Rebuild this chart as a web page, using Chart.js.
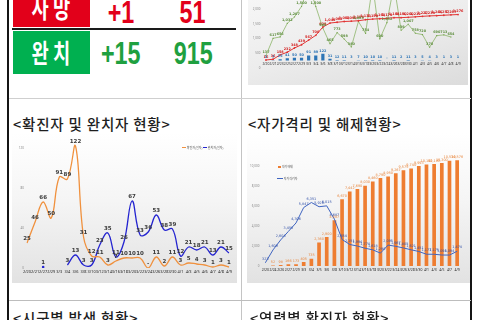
<!DOCTYPE html>
<html><head><meta charset="utf-8">
<script src="https://cdn.jsdelivr.net/npm/chart.js@4.4.1/dist/chart.umd.min.js"></script>
<style>
html,body{margin:0;padding:0;}
body{width:480px;height:320px;overflow:hidden;position:relative;background:#fff;font-family:"Noto Sans CJK KR","Noto Sans",sans-serif;}
.ln{position:absolute;}
.box{position:absolute;color:#fff;font-weight:700;display:flex;align-items:center;justify-content:center;font-size:26px;line-height:1;}
.box span{display:inline-block;transform:scaleX(0.72);white-space:pre;}
.num{position:absolute;width:70px;text-align:center;font-family:"Liberation Sans Narrow","Liberation Sans",Arial,sans-serif;font-weight:700;font-size:31.5px;line-height:31.5px;}
.num span{display:inline-block;transform:scaleX(0.74);}
.title{position:absolute;font-size:14.5px;line-height:14.5px;font-weight:500;color:#1e1e1e;white-space:pre;letter-spacing:0.8px;}
.panel{position:absolute;}
.leg{position:absolute;font-size:3px;line-height:3px;white-space:nowrap;color:#555;}
canvas{position:absolute;}
</style></head><body>

<!-- data -->
<script>
// top-right overview chart
const ovLabels = ['2/20','2/21','2/23','2/25','2/27','2/29','3/3','3/4','3/6','3/8','3/10','3/12','3/14','3/16','3/18','3/20','3/22','3/24','3/26','3/28','3/30','4/1','4/3','4/5','4/6','4/7','4/8','4/9'];
const ovDaily  = [3,7,25,41,50,50,91,89,122,31,12,11,3,7,10,10,10,0,11,2,11,3,5,4,3,1,3,1];
const ovCumul  = [16,36,158,232,348,439,567,700,929,1040,1062,1083,1092,1104,1133,1150,1160,1170,1188,1190,1200,1212,1227,1238,1246,1257,1267,1276];
const ovGreen  = [137,617,656,1032,1207,1500,2100,1500,900,465,773,598,380,1083,754,2100,600,1052,2100,839,1007,758,720,370,690,713,654,null];
const ovTicks  = [0,500,1000,1500,2000];

// confirmed / recovered chart
const crLabels    = ['2/20','2/21','2/27','2/29','3/3','3/4','3/6','3/8','3/10','3/12','3/14','3/16','3/18','3/20','3/22','3/24','3/26','3/28','3/30','4/1','4/3','4/5','4/6','4/7','4/8','4/9'];
const crConfirmed = [25,46,66,50,91,89,122,31,12,11,3,7,10,10,10,0,11,2,11,3,5,4,3,1,3,1];
const crRecovered = [null,null,1,null,null,3,13,3,3,23,35,11,26,67,33,36,53,38,39,12,21,18,21,13,21,15];
const crTicks     = [0,40,80,120];

// self-quarantine chart
const sqLabels     = ['2/20','2/24','2/26','2/27','2/29','3/3','3/4','3/5','3/6','3/8','3/10','3/12','3/14','3/16','3/18','3/20','3/22','3/24','3/26','3/28','3/30','4/1','4/3','4/5','4/7','4/9'];
const sqReleased   = [0,52,98,166,173,405,735,2360,2900,4587,6670,7442,7690,8030,8460,8790,8950,9267,9575,9744,9993,10162,10192,10300,10534,10576];
const sqQuarantine = [323,1609,2608,3456,4306,5847,6351,5928,6015,4687,2654,2151,1994,1774,1618,1290,2095,1967,1805,1621,1451,1177,1175,1098,1094,1474];
const sqTicks      = [0,2000,4000,6000,8000,10000];
</script>

<!-- frame lines -->
<div class="ln" style="left:6.5px;top:0;width:2px;height:320px;background:#151515"></div>
<div class="ln" style="left:470px;top:0;width:2px;height:320px;background:#151515"></div>
<div class="ln" style="left:241px;top:0;width:1px;height:320px;background:#c4c4c4"></div>
<div class="ln" style="left:8.5px;top:97.5px;width:462px;height:1px;background:#cfcfcf"></div>
<div class="ln" style="left:8.5px;top:300px;width:462px;height:1px;background:#bdbdbd"></div>

<!-- top-left status table -->
<div class="box" style="left:12.5px;top:-14px;width:77.5px;height:41px;background:#E2001A"><span>사 망</span></div>
<div class="num" style="left:86px;top:-2.7px;color:#E2001A"><span>+1</span></div>
<div class="num" style="left:158px;top:-2.7px;color:#E2001A"><span>51</span></div>
<div class="ln" style="left:12px;top:28.3px;width:224px;height:1.7px;background:#1a1a1a"></div>
<div class="box" style="left:12.5px;top:30.7px;width:77.5px;height:43.3px;background:#00B050"><span>완 치</span></div>
<div class="num" style="left:86px;top:38.3px;color:#1FA040"><span>+15</span></div>
<div class="num" style="left:158px;top:38.3px;color:#1FA040"><span>915</span></div>

<!-- top-right overview -->
<div class="panel" style="left:248px;top:0;width:220px;height:85px;background:linear-gradient(165deg,#f6f6f6 0%,#ececec 50%,#dcdcdc 100%)"></div>
<canvas id="ov" width="220" height="115" style="left:248px;top:-30px"></canvas>

<!-- middle titles -->
<div class="title" style="left:13px;top:117.4px">&lt;확진자 및 완치자 현황&gt;</div>
<div class="title" style="left:248px;top:117.4px">&lt;자가격리 및 해제현황&gt;</div>

<!-- middle-left -->
<div class="panel" style="left:12px;top:133px;width:225px;height:150px;background:linear-gradient(180deg,#ffffff 0%,#f5f5f5 45%,#e2e2e2 100%)"></div>
<canvas id="cr" width="225" height="150" style="left:12px;top:133px"></canvas>
<div class="leg" style="left:182px;top:146.5px"><span style="display:inline-block;width:4px;height:0.8px;background:#F0913E;vertical-align:middle"></span> 확진자(일자)</div>
<div class="leg" style="left:203px;top:146.5px"><span style="display:inline-block;width:4px;height:0.8px;background:#2424D0;vertical-align:middle"></span> 완치자(일자)</div>

<!-- middle-right -->
<div class="panel" style="left:247px;top:133px;width:223px;height:150px;background:linear-gradient(180deg,#ffffff 0%,#f5f5f5 45%,#e2e2e2 100%)"></div>
<canvas id="sq" width="223" height="150" style="left:247px;top:133px"></canvas>
<div class="leg" style="left:278px;top:165.5px"><span style="display:inline-block;width:3px;height:2px;background:#EE7D31;vertical-align:middle"></span> 격리해제</div>
<div class="leg" style="left:277px;top:177.5px"><span style="display:inline-block;width:6px;height:0.8px;background:#3F64C0;vertical-align:middle"></span> 자가격리자</div>

<!-- bottom titles -->
<div class="title" style="left:13px;top:310.5px">&lt;시군별 발생 현황&gt;</div>
<div class="title" style="left:250px;top:310.5px">&lt;연령별 확진자 현황&gt;</div>

<script>
const valueLabels = {
  id: 'valueLabels',
  afterDatasetsDraw(chart) {
    const ctx = chart.ctx;
    chart.data.datasets.forEach((ds, i) => {
      const o = ds.valueLabel;
      if (!o) return;
      const meta = chart.getDatasetMeta(i);
      ctx.save();
      ctx.font = o.font;
      ctx.fillStyle = o.color;
      ctx.textAlign = 'center';
      ctx.textBaseline = 'bottom';
      meta.data.forEach((el, j) => {
        const v = ds.data[j];
        if (v === null || v === undefined) return;
        if (v === 0 && o.skipZero) return;
        const txt = v === 0 ? '-' : v.toLocaleString('en-US');
        ctx.fillText(txt, el.x, el.y - (o.offset || 2));
      });
      ctx.restore();
    });
  }
};
Chart.defaults.font.family = '"Noto Sans","DejaVu Sans",sans-serif';
const noGrid = {display: false, drawTicks: false};
const noBorder = {display: false};
function fixTicks(list) {
  return function (scale) { scale.ticks = list.map(v => ({value: v})); };
}

// ---- overview (top right)
new Chart(document.getElementById('ov'), {
  data: {
    labels: ovLabels,
    datasets: [
      {type: 'line', label: '누적', data: ovCumul, yAxisID: 'y2', borderColor: '#E23434', borderWidth: 1,
       pointRadius: 0.9, pointBackgroundColor: '#E23434', pointBorderWidth: 0, tension: 0, order: 1,
       valueLabel: {font: 'bold 3.4px "DejaVu Sans"', color: '#D42020', offset: 1.5}},
      {type: 'line', label: '검사', data: ovGreen, yAxisID: 'y2', borderColor: '#8DB56A', borderWidth: 0.8,
       pointRadius: 0.8, pointStyle: 'rect', pointBackgroundColor: '#7AA552', pointBorderWidth: 0, tension: 0, order: 2,
       valueLabel: {font: 'bold 3.4px "DejaVu Sans"', color: '#5E8E3E', offset: 1.5}},
      {type: 'bar', label: '일일', data: ovDaily, yAxisID: 'y3', backgroundColor: '#2E75B6',
       barPercentage: 0.45, categoryPercentage: 1, order: 3,
       valueLabel: {font: 'bold 3.4px "DejaVu Sans"', color: '#2E75B6', offset: 1.2}}
    ]
  },
  options: {
    responsive: false, animation: false,
    layout: {padding: {left: 0, right: 6.4, top: 0, bottom: 10}},
    plugins: {legend: {display: false}, tooltip: {enabled: false}},
    scales: {
      x: {position: {y2: 0}, offset: true, grid: noGrid, border: noBorder,
          ticks: {font: {size: 3.4}, color: '#333', maxRotation: 0, autoSkip: false, padding: 1}},
      y: {position: 'left', min: -243, max: 3208, grid: noGrid, border: noBorder,
          afterBuildTicks: fixTicks(ovTicks),
          ticks: {font: {size: 3}, color: '#888', padding: 2, callback: v => v.toLocaleString('en-US')},
          afterFit(s) { s.width = 14.4; }},
      y2: {display: false, min: -400, max: 2400},
      y3: {display: false, min: -255, max: 1528}
    }
  },
  plugins: [valueLabels]
});

// ---- confirmed / recovered (middle left)
new Chart(document.getElementById('cr'), {
  type: 'line',
  data: {
    labels: crLabels,
    datasets: [
      {label: '확진자(일자)', data: crConfirmed, borderColor: '#F0913E', borderWidth: 1.3, tension: 0.4,
       pointRadius: 0, valueLabel: {font: 'bold 5.5px "DejaVu Sans"', color: '#3a3a3a', offset: 2}},
      {label: '완치자(일자)', data: crRecovered, borderColor: '#2424D0', borderWidth: 1.3, tension: 0.4,
       pointRadius: c => {
         const d = c.dataset.data, k = c.dataIndex;
         return (d[k] !== null && d[k - 1] == null && d[k + 1] == null) ? 1.3 : 0;
       },
       pointBackgroundColor: '#2424D0', pointBorderWidth: 0,
       valueLabel: {font: 'bold 5.5px "DejaVu Sans"', color: '#3a3a3a', offset: 2}}
    ]
  },
  options: {
    responsive: false, animation: false,
    layout: {padding: {left: 0, right: 8, top: 5, bottom: 5}},
    plugins: {legend: {display: false}, tooltip: {enabled: false}},
    scales: {
      x: {grid: noGrid, border: noBorder,
          ticks: {font: {size: 3.9}, color: '#222', maxRotation: 0, autoSkip: false, padding: 2},
          afterFit(s) { s.height = 10; }},
      y: {min: 0, max: 130, grid: noGrid, border: noBorder, afterBuildTicks: fixTicks(crTicks),
          ticks: {font: {size: 3}, color: '#888', padding: 3},
          afterFit(s) { s.width = 15; }}
    }
  },
  plugins: [valueLabels]
});

// ---- self quarantine (middle right)
new Chart(document.getElementById('sq'), {
  data: {
    labels: sqLabels,
    datasets: [
      {type: 'line', label: '자가격리자', data: sqQuarantine, borderColor: '#3F64C0', borderWidth: 1,
       pointRadius: 0, tension: 0, order: 0,
       valueLabel: {font: '3.4px "DejaVu Sans"', color: '#2F4FA8', offset: 2}},
      {type: 'bar', label: '격리해제', data: sqReleased, backgroundColor: '#EE7D31',
       barPercentage: 0.48, categoryPercentage: 1, order: 1,
       valueLabel: {font: '3.4px "DejaVu Sans"', color: '#E8873F', offset: 1.5, skipZero: true}}
    ]
  },
  options: {
    responsive: false, animation: false,
    layout: {padding: {left: 0, right: 9, top: 13, bottom: 7}},
    plugins: {legend: {display: false}, tooltip: {enabled: false}},
    scales: {
      x: {offset: true, grid: noGrid, border: noBorder,
          ticks: {font: {size: 3.4}, color: '#222', maxRotation: 0, autoSkip: false, padding: 2},
          afterFit(s) { s.height = 10; }},
      y: {min: 0, max: 12000, grid: noGrid, border: noBorder, afterBuildTicks: fixTicks(sqTicks),
          ticks: {font: {size: 3}, color: '#888', padding: 2, callback: v => v.toLocaleString('en-US')},
          afterFit(s) { s.width = 14.5; }}
    }
  },
  plugins: [valueLabels]
});
</script>
</body></html>
